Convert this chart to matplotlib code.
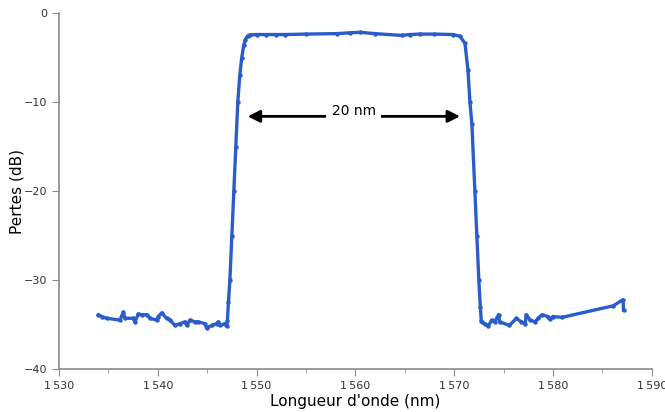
"""Spectre de transmission d'un filtre passe-bande (pertes vs longueur d'onde)."""

import matplotlib
matplotlib.use('Agg')
import matplotlib.pyplot as plt
from matplotlib.ticker import FuncFormatter, MultipleLocator

# longueur d'onde (nm) et pertes (dB)
wl_left = [1533.98, 1534.32, 1534.83, 1536.17, 1536.51, 1536.68, 1537.52, 1537.69,
           1538.03, 1538.37, 1538.88, 1539.21, 1539.89, 1540.05, 1540.39, 1540.90,
           1541.23, 1541.74, 1542.25, 1542.75, 1542.93, 1543.26, 1543.77, 1544.10,
           1544.78, 1544.95, 1545.46, 1545.96, 1546.12, 1546.30, 1546.80, 1546.97]
loss_left = [-33.9, -34.1, -34.3, -34.5, -33.6, -34.3, -34.3, -34.7,
             -33.8, -33.9, -33.9, -34.3, -34.5, -34.1, -33.7, -34.3,
             -34.5, -35.1, -34.9, -34.7, -35.1, -34.5, -34.7, -34.7,
             -34.9, -35.4, -35.1, -34.9, -34.7, -35.1, -34.9, -35.2]

wl_rise = [1547.05, 1547.15, 1547.3, 1547.5, 1547.7, 1547.9, 1548.1, 1548.3,
           1548.5, 1548.7, 1548.85, 1549.1, 1549.3]
loss_rise = [-34.6, -32.5, -30.0, -25.0, -20.0, -15.0, -10.0, -7.0,
             -5.0, -3.6, -3.0, -2.55, -2.45]

wl_top = [1550.0, 1551.0, 1552.0, 1552.9, 1555.0, 1558.1, 1559.5, 1560.5,
          1562.0, 1564.7, 1565.5, 1566.5, 1568.0, 1569.9, 1570.6]
loss_top = [-2.4, -2.4, -2.4, -2.4, -2.35, -2.3, -2.2, -2.15,
            -2.3, -2.5, -2.4, -2.35, -2.35, -2.4, -2.6]

wl_fall = [1571.1, 1571.4, 1571.6, 1571.8, 1572.1, 1572.3, 1572.5, 1572.65, 1572.75]
loss_fall = [-3.4, -6.4, -10.0, -12.5, -20.0, -25.0, -30.0, -33.0, -34.6]

wl_right = [1572.8, 1573.1, 1573.45, 1573.8, 1574.1, 1574.5, 1574.6, 1575.6,
            1576.3, 1576.8, 1577.2, 1577.3, 1577.7, 1578.2, 1578.5, 1578.9,
            1579.5, 1579.7, 1580.0, 1580.9, 1586.1, 1587.1, 1587.15]
loss_right = [-34.7, -34.9, -35.2, -34.5, -34.7, -33.9, -34.7, -35.1,
              -34.3, -34.7, -34.9, -33.9, -34.5, -34.7, -34.3, -33.9,
              -34.1, -34.4, -34.1, -34.2, -32.9, -32.2, -33.4]

wavelength = wl_left + wl_rise + wl_top + wl_fall + wl_right
loss = loss_left + loss_rise + loss_top + loss_fall + loss_right

band_edges = [1549.1, 1570.6]
arrow_level = -11.6
band_label = '20 nm'

x_ticks = [1530, 1540, 1550, 1560, 1570, 1580, 1590]
y_ticks = [-40, -30, -20, -10, 0]

plt.rcParams['font.family'] = ['DejaVu Sans']

fig = plt.figure(figsize=(6.65, 4.12), dpi=100)
ax = fig.add_axes([0.0887, 0.1044, 0.8913, 0.8636])

ax.plot(wavelength, loss, color='#2a5ccb', linewidth=2.4, marker='o',
        markersize=2.2, solid_joinstyle='round')

ax.annotate('', xy=(band_edges[0], arrow_level), xytext=(band_edges[1], arrow_level),
            arrowprops=dict(arrowstyle='<|-|>', color='black', lw=2,
                            mutation_scale=18, shrinkA=0, shrinkB=0))
ax.text(sum(band_edges) / 2, arrow_level + 0.6, band_label, ha='center',
        va='center', fontsize=10,
        bbox=dict(facecolor='white', edgecolor='none', pad=4))

ax.set_xlim(1530, 1590)
ax.set_ylim(-40, 0)
ax.set_xticks(x_ticks)
ax.set_yticks(y_ticks)
ax.xaxis.set_minor_locator(MultipleLocator(5))
ax.xaxis.set_major_formatter(
    FuncFormatter(lambda v, _: f'{int(v):,}'.replace(',', '\u2009')))

for side in ('top', 'right'):
    ax.spines[side].set_visible(False)
for side in ('left', 'bottom'):
    ax.spines[side].set_color('#8a8a8a')
    ax.spines[side].set_linewidth(1.2)

ax.tick_params(axis='both', which='major', length=5, color='#8a8a8a',
               labelsize=8, labelcolor='#333333')
ax.tick_params(axis='x', which='minor', length=3, color='#8a8a8a')

ax.set_xlabel("Longueur d'onde (nm)", fontsize=11, labelpad=2)
ax.set_ylabel('Pertes (dB)', fontsize=11)
ax.yaxis.set_label_coords(-0.058, 0.5)

fig.savefig('out.png', dpi=100)
